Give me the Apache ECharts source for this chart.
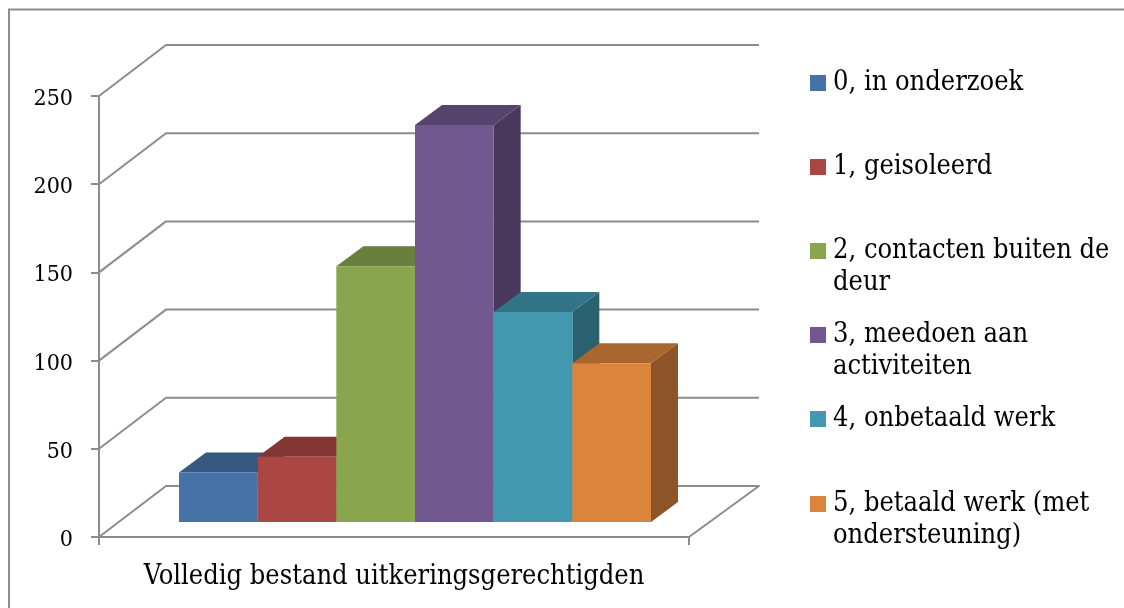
<!DOCTYPE html>
<html>
<head>
<meta charset="utf-8">
<style>
  html, body { margin: 0; padding: 0; background: #fff; }
  #chart { width: 1124px; height: 608px; }
</style>
<script src="https://cdn.jsdelivr.net/npm/echarts@6/dist/echarts.min.js"></script>
</head>
<body>
<div id="chart"></div>
<script>
var categories = ['Volledig bestand uitkeringsgerechtigden'];
var seriesNames = [
  '0, in onderzoek',
  '1, geisoleerd',
  '2, contacten buiten de\ndeur',
  '3, meedoen aan\nactiviteiten',
  '4, onbetaald werk',
  '5, betaald werk (met\nondersteuning)'
];
var seriesValues = [28, 37, 145, 225, 119, 90];
var seriesColors = ['#4572A7', '#AA4643', '#89A54E', '#71588F', '#4198AF', '#DB843D'];
var yTicks = [0, 50, 100, 150, 200, 250];
// midden van het legendablokje per regel (px)
var legendRows = [83, 167, 251, 335, 419, 504];

var font = '"DejaVu Serif Condensed", "DejaVu Serif", serif';
var lineColor = '#8c8c8c';
var wallDx = 67, wallDy = -51;   // diepte van de achterwand
var floorDx = 70;                // rechterkant vloer
var barOffX = 21, barOffY = -15; // staven staan iets achter het voorvlak
var barDx = 27, barDy = -20;     // diepte van de staaf
var gapFrac = 0.1;

// kleur donkerder maken voor boven- en zijvlak
function shade(c, k) {
  var p = echarts.color.parse(c);
  return 'rgb(' + Math.round(p[0] * k) + ',' + Math.round(p[1] * k) + ',' + Math.round(p[2] * k) + ')';
}

function renderWall(params, api) {
  var cs = params.coordSys;
  var y = api.coord([0, api.value(0)])[1];
  var pts = [[cs.x, y], [cs.x + wallDx, y + wallDy], [cs.x + cs.width + floorDx, y + wallDy]];
  if (api.value(0) === 0) {
    pts.push([cs.x + cs.width, y]);
  }
  return {
    type: 'polyline',
    shape: { points: pts },
    style: { stroke: lineColor, lineWidth: 2, fill: null, lineJoin: 'round' }
  };
}

function renderBar(idx) {
  return function (params, api) {
    var cs = params.coordSys;
    var w = cs.width * (1 - 2 * gapFrac) / seriesValues.length;
    var x0 = cs.x + cs.width * gapFrac + idx * w + barOffX;
    var x1 = x0 + w;
    var top = api.coord([0, api.value(1)])[1] + barOffY;
    var base = api.coord([0, 0])[1] + barOffY;
    var c = seriesColors[idx];
    return {
      type: 'group',
      children: [
        {
          type: 'polygon',
          shape: { points: [[x1, top], [x1 + barDx, top + barDy], [x1 + barDx, base + barDy], [x1, base]] },
          style: { fill: shade(c, 0.64) }
        },
        {
          type: 'polygon',
          shape: { points: [[x0, top], [x0 + barDx, top + barDy], [x1 + barDx, top + barDy], [x1, top]] },
          style: { fill: shade(c, 0.77) }
        },
        {
          type: 'rect',
          shape: { x: x0, y: top, width: x1 - x0, height: base - top },
          style: { fill: c }
        }
      ]
    };
  };
}

var series = [{
  type: 'custom',
  name: 'wand',
  silent: true,
  z: 1,
  renderItem: renderWall,
  encode: { y: 0 },
  data: yTicks.map(function (t) { return [t]; })
}];
seriesNames.forEach(function (name, i) {
  series.push({
    type: 'custom',
    name: name,
    z: 2,
    color: seriesColors[i],
    renderItem: renderBar(i),
    encode: { x: 0, y: 1 },
    data: [[categories[0], seriesValues[i]]]
  });
});

var lineHeight = 32;
var legends = seriesNames.map(function (name, i) {
  var multi = name.indexOf('\n') >= 0;
  return {
    data: [name],
    left: 810,
    top: legendRows[i] - (multi ? 3 : 1) * lineHeight / 2,
    padding: 0,
    orient: 'vertical',
    icon: 'rect',
    itemWidth: 16,
    itemHeight: 16,
    itemGap: 7,
    selectedMode: false,
    // lege eerste regel zodat het blokje bij de eerste tekstregel staat
    formatter: function (n) { return multi ? '\n' + n : n; },
    textStyle: { fontFamily: font, fontSize: 27, color: '#000', lineHeight: lineHeight, padding: [0, 0, 0, 2] }
  };
});

var option = {
  animation: false,
  backgroundColor: '#fff',
  grid: { left: 99, top: 96, width: 590, height: 441 },
  legend: legends,
  xAxis: {
    type: 'category',
    data: categories,
    axisLine: { lineStyle: { color: lineColor, width: 2 } },
    axisTick: { show: true, length: 8, lineStyle: { color: lineColor, width: 2 } },
    axisLabel: { color: '#000', fontFamily: font, fontSize: 27, margin: 26 }
  },
  yAxis: {
    type: 'value',
    min: 0,
    max: 250,
    interval: 50,
    splitLine: { show: false },
    axisLine: { show: true, lineStyle: { color: lineColor, width: 2 } },
    axisTick: { show: true, length: 8, lineStyle: { color: lineColor, width: 2 } },
    axisLabel: { color: '#000', fontFamily: font, fontSize: 23, margin: 26, verticalAlign: 'top', lineHeight: 6 }
  },
  graphic: [{
    type: 'rect',
    silent: true,
    z: -1,
    shape: { x: 9, y: 9.5, width: 1200, height: 700 },
    style: { fill: 'none', stroke: lineColor, lineWidth: 2 }
  }],
  series: series
};

var myChart = echarts.init(document.getElementById('chart'));
myChart.setOption(option);
</script>
</body>
</html>
